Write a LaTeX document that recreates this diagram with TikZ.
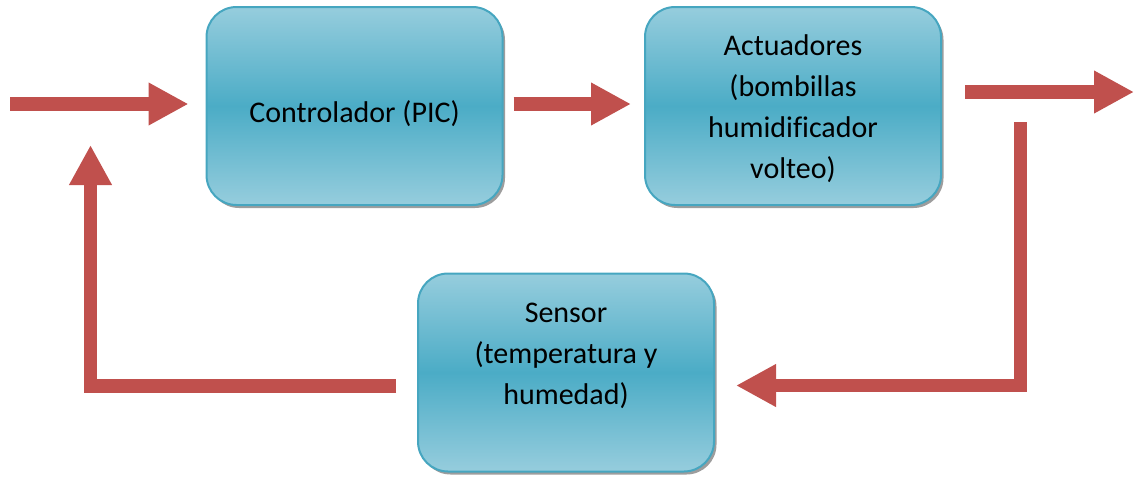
\documentclass[tikz,border=0pt]{standalone}
\usepackage{fontspec}
\setmainfont{Carlito}[Ligatures=NoCommon]
\usetikzlibrary{arrows.meta,shadows,calc}

\definecolor{boxlight}{RGB}{150,205,221}
\definecolor{boxdark}{RGB}{75,172,198}
\definecolor{boxedge}{RGB}{70,166,192}
\definecolor{flowred}{RGB}{192,80,77}

\tikzset{
  block/.style={
    draw=boxedge, line width=2pt, rounded corners=30pt,
    top color=boxlight, bottom color=boxlight, middle color=boxdark,
    minimum width=296pt, minimum height=198pt, inner sep=0pt,
    drop shadow={shadow xshift=2.5pt, shadow yshift=-3pt, fill=black!70, opacity=0.55}
  },
  blocktext/.style={
    align=center, text=black, inner sep=0pt,
    font=\fontsize{30pt}{41pt}\selectfont
  },
  flow/.style={
    draw=flowred, line width=13.5pt, line join=miter, line cap=butt,
    -{Triangle[length=40pt,width=40pt]}
  }
}

\begin{document}
\begin{tikzpicture}[x=1pt,y=-1pt]
  \useasboundingbox (0,0) rectangle (1134,477);

  % blocks
  \node[block] (ctrl) at (354.5,106) {};
  \node[block] (act)  at (793,106)   {};
  \node[block] (sens) at (566,372.5) {};

  % block captions
  \node[blocktext] (ctrltxt) at (354.5,114) {Controlador (PIC)};
  \node[blocktext] (acttxt)  at (793,109)   {Actuadores\\(bombillas\\humidificador\\volteo)};
  \node[blocktext] (senstxt) at (566,356)   {Sensor\\(temperatura y\\humedad)};

  % free ends of the loop
  \coordinate (in)   at (10,104);
  \coordinate (out)  at (965,92);
  \coordinate (outend) at (1134,92);
  \coordinate (tap)  at (1020.5,122);

  % forward path
  \draw[flow] (in) -- ([xshift=-17pt]ctrl.west |- in);
  \draw[flow] ([xshift=10pt]ctrl.east |- in) -- ([xshift=-13pt]act.west |- in);
  \draw[flow] (out) -- (outend);

  % feedback path
  \draw[flow] (tap) -- (tap |- 0,385.5) -- ([xshift=21pt]sens.east |- 0,385.5);
  \draw[flow] ([xshift=-21pt]sens.west |- 0,386) -- (90.5,386) -- (90.5,145);
\end{tikzpicture}
\end{document}
